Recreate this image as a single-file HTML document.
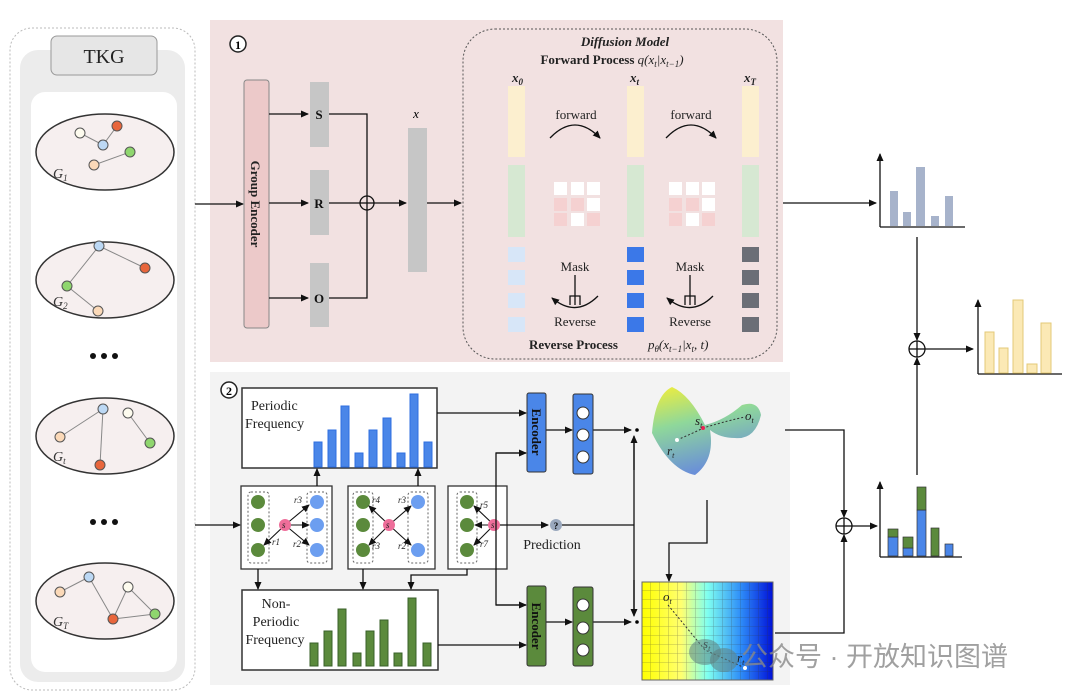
<!DOCTYPE html>
<html><head><meta charset="utf-8"><style>
html,body{margin:0;padding:0;background:#fff;}
svg{display:block;font-family:"Liberation Serif",serif;}
</style></head><body>
<svg width="1080" height="698" viewBox="0 0 1080 698" xmlns="http://www.w3.org/2000/svg">
<defs>
<marker id="ar" markerWidth="8" markerHeight="8" refX="7" refY="4" orient="auto" markerUnits="userSpaceOnUse"><path d="M0,0.5 L8,4 L0,7.5 z" fill="#111"/></marker>
<linearGradient id="surf" x1="0" y1="0" x2="0.3" y2="1"><stop offset="0" stop-color="#f2ee3a"/><stop offset="0.45" stop-color="#8fd89a"/><stop offset="1" stop-color="#6a8fd8"/></linearGradient>
<linearGradient id="heat" x1="0" y1="0" x2="1" y2="0"><stop offset="0" stop-color="#ffff00"/><stop offset="0.3" stop-color="#ffff70"/><stop offset="0.5" stop-color="#7ffff0"/><stop offset="0.75" stop-color="#2f8ff8"/><stop offset="1" stop-color="#0010d8"/></linearGradient>
<pattern id="grid" width="9" height="9" patternUnits="userSpaceOnUse" x="642" y="582"><path d="M9,0 V9 M0,9 H9" stroke="#333" stroke-opacity="0.45" stroke-width="0.8" fill="none"/></pattern>
</defs>

<!-- LEFT PANEL -->
<rect x="10" y="28" width="185" height="662" rx="22" fill="#fff" stroke="#bbb" stroke-dasharray="2,2"/>
<rect x="20" y="50" width="165" height="632" rx="18" fill="#ececec"/>
<rect x="31" y="92" width="146" height="580" rx="14" fill="#fff"/>
<rect x="51" y="36" width="106" height="39" rx="6" fill="#e6e6e6" stroke="#999"/>
<text x="104" y="63" font-size="20" text-anchor="middle" fill="#222">TKG</text>

<g stroke="#333" stroke-width="1.5" fill="#f6efef">
<ellipse cx="105" cy="152" rx="69" ry="38"/>
<ellipse cx="105" cy="280" rx="69" ry="38"/>
<ellipse cx="105" cy="436" rx="69" ry="38"/>
<ellipse cx="105" cy="601" rx="69" ry="38"/>
</g>
<g transform="translate(0,-3)">
<g stroke="#888" stroke-width="1">
<line x1="80" y1="136" x2="103" y2="148"/><line x1="103" y1="148" x2="117" y2="129"/><line x1="94" y1="168" x2="130" y2="155"/>
<line x1="99" y1="249" x2="145" y2="271"/><line x1="99" y1="249" x2="67" y2="289"/><line x1="67" y1="289" x2="98" y2="314"/>
<line x1="103" y1="412" x2="60" y2="440"/><line x1="103" y1="412" x2="100" y2="468"/><line x1="128" y1="416" x2="150" y2="446"/>
<line x1="89" y1="580" x2="60" y2="595"/><line x1="89" y1="580" x2="113" y2="622"/><line x1="113" y1="622" x2="128" y2="590"/><line x1="128" y1="590" x2="155" y2="617"/><line x1="113" y1="622" x2="155" y2="617"/>
</g>
<g stroke="#555" stroke-width="1">
<circle cx="80" cy="136" r="5" fill="#fdfbee"/><circle cx="103" cy="148" r="5" fill="#bcd8f4"/><circle cx="117" cy="129" r="5" fill="#e8663c"/><circle cx="94" cy="168" r="5" fill="#fbd9b8"/><circle cx="130" cy="155" r="5" fill="#8fd66e"/>
<circle cx="99" cy="249" r="5" fill="#bcd8f4"/><circle cx="145" cy="271" r="5" fill="#e8663c"/><circle cx="67" cy="289" r="5" fill="#8fd66e"/><circle cx="98" cy="314" r="5" fill="#fbd9b8"/>
<circle cx="103" cy="412" r="5" fill="#bcd8f4"/><circle cx="128" cy="416" r="5" fill="#fdfbee"/><circle cx="60" cy="440" r="5" fill="#fbd9b8"/><circle cx="150" cy="446" r="5" fill="#8fd66e"/><circle cx="100" cy="468" r="5" fill="#e8663c"/>
<circle cx="89" cy="580" r="5" fill="#bcd8f4"/><circle cx="60" cy="595" r="5" fill="#fbd9b8"/><circle cx="128" cy="590" r="5" fill="#fdfbee"/><circle cx="155" cy="617" r="5" fill="#8fd66e"/><circle cx="113" cy="622" r="5" fill="#e8663c"/>
</g>
<g font-style="italic" font-size="14" fill="#333">
<text x="53" y="181">G<tspan font-size="9" dy="3">1</tspan></text>
<text x="53" y="309">G<tspan font-size="9" dy="3">2</tspan></text>
<text x="53" y="464">G<tspan font-size="9" dy="3">t</tspan></text>
<text x="53" y="629">G<tspan font-size="9" dy="3">T</tspan></text>
</g>
</g>
<g fill="#111"><circle cx="93" cy="356" r="3"/><circle cx="104" cy="356" r="3"/><circle cx="115" cy="356" r="3"/>
<circle cx="93" cy="522" r="3"/><circle cx="104" cy="522" r="3"/><circle cx="115" cy="522" r="3"/></g>

<!-- PANEL 1 -->
<rect x="210" y="20" width="573" height="342" fill="#f2e1e1"/>
<circle cx="238" cy="44" r="8" fill="#fff" stroke="#222" stroke-width="1.5"/><text x="238" y="49" font-size="12" text-anchor="middle" font-weight="bold">1</text>
<line x1="195" y1="204" x2="243" y2="204" stroke="#111" stroke-width="1.3" marker-end="url(#ar)"/>
<rect x="244" y="80" width="25" height="248" rx="3" fill="#ecc9c9" stroke="#888"/>
<text transform="translate(251,204) rotate(90)" font-size="13" font-weight="bold" text-anchor="middle" fill="#222">Group Encoder</text>
<g fill="#c6c6c6"><rect x="310" y="82" width="19" height="65"/><rect x="310" y="170" width="19" height="65"/><rect x="310" y="263" width="19" height="64"/></g>
<g stroke="#111" stroke-width="1.3" fill="none">
<line x1="269" y1="114" x2="308" y2="114" marker-end="url(#ar)"/>
<line x1="269" y1="203" x2="308" y2="203" marker-end="url(#ar)"/>
<line x1="269" y1="298" x2="308" y2="298" marker-end="url(#ar)"/>
<polyline points="329,114 367,114 367,298 329,298"/>
<line x1="329" y1="203" x2="360" y2="203"/>
<circle cx="367" cy="203" r="7" fill="#f2e1e1"/><line x1="360" y1="203" x2="374" y2="203"/><line x1="367" y1="196" x2="367" y2="210"/>
<line x1="374" y1="203" x2="406" y2="203" marker-end="url(#ar)"/>
<line x1="427" y1="203" x2="461" y2="203" marker-end="url(#ar)"/>
</g>
<g font-size="13" font-weight="bold" fill="#111"><text x="319" y="119" text-anchor="middle">S</text><text x="319" y="208" text-anchor="middle">R</text><text x="319" y="303" text-anchor="middle">O</text></g>
<rect x="408" y="128" width="19" height="144" fill="#c6c6c6"/>
<text x="416" y="118" font-size="13" font-style="italic" text-anchor="middle">x</text>

<rect x="463" y="29" width="314" height="330" rx="32" fill="none" stroke="#555" stroke-dasharray="2,2"/>
<text x="625" y="46" font-size="13" font-weight="bold" font-style="italic" text-anchor="middle" fill="#222">Diffusion Model</text>
<text x="612" y="64" font-size="13" font-weight="bold" text-anchor="middle" fill="#222">Forward Process <tspan font-weight="normal" font-style="italic">q(x<tspan font-size="9" dy="3">t</tspan><tspan dy="-3">|x</tspan><tspan font-size="9" dy="3">t−1</tspan><tspan dy="-3">)</tspan></tspan></text>
<g font-size="13" font-style="italic" font-weight="bold" fill="#222">
<text x="512" y="82">x<tspan font-size="9" dy="3">0</tspan></text>
<text x="630" y="82">x<tspan font-size="9" dy="3">t</tspan></text>
<text x="744" y="82">x<tspan font-size="9" dy="3">T</tspan></text>
</g>
<g>
<rect x="508" y="86" width="17" height="71" fill="#fcefcf"/><rect x="627" y="86" width="17" height="71" fill="#fcefcf"/><rect x="742" y="86" width="17" height="71" fill="#fcefcf"/>
<rect x="508" y="165" width="17" height="72" fill="#d6e8d2"/><rect x="627" y="165" width="17" height="72" fill="#d6e8d2"/><rect x="742" y="165" width="17" height="72" fill="#d6e8d2"/>
</g>
<g fill="#d7e6f8"><rect x="508" y="247" width="17" height="15"/><rect x="508" y="270" width="17" height="15"/><rect x="508" y="293" width="17" height="15"/><rect x="508" y="317" width="17" height="15"/></g>
<g fill="#3b78e8"><rect x="627" y="247" width="17" height="15"/><rect x="627" y="270" width="17" height="15"/><rect x="627" y="293" width="17" height="15"/><rect x="627" y="317" width="17" height="15"/></g>
<g fill="#6b6e76"><rect x="742" y="247" width="17" height="15"/><rect x="742" y="270" width="17" height="15"/><rect x="742" y="293" width="17" height="15"/><rect x="742" y="317" width="17" height="15"/></g>
<g font-size="13" fill="#222" text-anchor="middle">
<text x="576" y="119">forward</text><text x="691" y="119">forward</text>
<text x="575" y="271">Mask</text><text x="690" y="271">Mask</text>
<text x="575" y="326">Reverse</text><text x="690" y="326">Reverse</text>
</g>
<g stroke="#111" stroke-width="1.3" fill="none">
<path d="M550,138 Q575,112 600,138" marker-end="url(#ar)"/>
<path d="M666,138 Q691,112 716,138" marker-end="url(#ar)"/>
<path d="M598,296 Q576,318 552,298" marker-end="url(#ar)"/>
<path d="M713,296 Q691,318 667,298" marker-end="url(#ar)"/>
<line x1="575" y1="275" x2="575" y2="305"/><path d="M570,305 V296 H580 V305"/>
<line x1="690" y1="275" x2="690" y2="305"/><path d="M685,305 V296 H695 V305"/>
</g>
<g>
<rect x="554" y="182" width="13" height="13" fill="#fff"/><rect x="571" y="182" width="13" height="13" fill="#fff"/><rect x="587" y="182" width="13" height="13" fill="#fff"/>
<rect x="554" y="198" width="13" height="13" fill="#f5d1d1"/><rect x="571" y="198" width="13" height="13" fill="#f5d1d1"/><rect x="587" y="198" width="13" height="13" fill="#fff"/>
<rect x="554" y="213" width="13" height="13" fill="#f5d1d1"/><rect x="571" y="213" width="13" height="13" fill="#fff"/><rect x="587" y="213" width="13" height="13" fill="#f5d1d1"/>
<rect x="669" y="182" width="13" height="13" fill="#fff"/><rect x="686" y="182" width="13" height="13" fill="#fff"/><rect x="702" y="182" width="13" height="13" fill="#fff"/>
<rect x="669" y="198" width="13" height="13" fill="#f5d1d1"/><rect x="686" y="198" width="13" height="13" fill="#f5d1d1"/><rect x="702" y="198" width="13" height="13" fill="#fff"/>
<rect x="669" y="213" width="13" height="13" fill="#f5d1d1"/><rect x="686" y="213" width="13" height="13" fill="#fff"/><rect x="702" y="213" width="13" height="13" fill="#f5d1d1"/>
</g>
<text x="529" y="349" font-size="13" font-weight="bold" fill="#222">Reverse Process</text>
<text x="648" y="349" font-size="13" font-style="italic" fill="#222">p<tspan font-size="9" dy="3">θ</tspan><tspan dy="-3">(x</tspan><tspan font-size="9" dy="3">t−1</tspan><tspan dy="-3">|x</tspan><tspan font-size="9" dy="3">t</tspan><tspan dy="-3">, t)</tspan></text>

<!-- PANEL 2 -->
<rect x="210" y="372" width="580" height="313" fill="#f3f3f3"/>
<circle cx="229" cy="390" r="8" fill="#fff" stroke="#222" stroke-width="1.5"/><text x="229" y="395" font-size="12" text-anchor="middle" font-weight="bold">2</text>
<rect x="242" y="388" width="195" height="80" fill="#fff" stroke="#333" stroke-width="1.5"/>
<text x="251" y="410" font-size="14" fill="#222">Periodic</text><text x="245" y="428" font-size="14" fill="#222">Frequency</text>
<g fill="#4a86e8" stroke="#2f6fe0">
<rect x="314" y="442" width="8" height="25"/><rect x="328" y="430" width="8" height="37"/><rect x="341" y="406" width="8" height="61"/><rect x="355" y="453" width="8" height="14"/><rect x="369" y="430" width="8" height="37"/><rect x="383" y="418" width="8" height="49"/><rect x="397" y="453" width="8" height="14"/><rect x="410" y="394" width="8" height="73"/><rect x="424" y="442" width="8" height="25"/>
</g>
<rect x="242" y="590" width="196" height="80" fill="#fff" stroke="#333" stroke-width="1.5"/>
<text x="276" y="608" font-size="14" fill="#222" text-anchor="middle">Non-</text><text x="276" y="626" font-size="14" fill="#222" text-anchor="middle">Periodic</text><text x="275" y="644" font-size="14" fill="#222" text-anchor="middle">Frequency</text>
<g fill="#5b8a3c" stroke="#38602a">
<rect x="310" y="643" width="8" height="23"/><rect x="324" y="631" width="8" height="35"/><rect x="338" y="609" width="8" height="57"/><rect x="353" y="653" width="8" height="13"/><rect x="366" y="631" width="8" height="35"/><rect x="380" y="620" width="8" height="46"/><rect x="394" y="653" width="8" height="13"/><rect x="408" y="598" width="8" height="68"/><rect x="423" y="643" width="8" height="23"/>
</g>

<!-- graph boxes -->
<g fill="#fff" stroke="#333" stroke-width="1.3"><rect x="241" y="486" width="91" height="83"/><rect x="348" y="486" width="87" height="83"/><rect x="448" y="486" width="59" height="83"/></g>
<g fill="none" stroke="#666" stroke-dasharray="2,2"><rect x="248" y="492" width="21" height="71" rx="3"/><rect x="307" y="492" width="20" height="71" rx="3"/><rect x="353" y="492" width="20" height="71" rx="3"/><rect x="408" y="492" width="20" height="71" rx="3"/><rect x="457" y="492" width="20" height="71" rx="3"/></g>
<g fill="#5b8a3c"><circle cx="258" cy="502" r="7"/><circle cx="258" cy="525" r="7"/><circle cx="258" cy="550" r="7"/><circle cx="363" cy="502" r="7"/><circle cx="363" cy="525" r="7"/><circle cx="363" cy="550" r="7"/><circle cx="467" cy="502" r="7"/><circle cx="467" cy="525" r="7"/><circle cx="467" cy="550" r="7"/></g>
<g fill="#6c9ef0"><circle cx="317" cy="502" r="7"/><circle cx="317" cy="525" r="7"/><circle cx="317" cy="550" r="7"/><circle cx="418" cy="502" r="7"/><circle cx="418" cy="550" r="7"/></g>
<g stroke="#111" stroke-width="1.1" marker-end="url(#ar)">
<line x1="285" y1="525" x2="264" y2="545"/><line x1="285" y1="525" x2="309" y2="505"/><line x1="285" y1="525" x2="309" y2="525"/><line x1="285" y1="525" x2="309" y2="545"/>
<line x1="389" y1="525" x2="369" y2="506"/><line x1="389" y1="525" x2="369" y2="545"/><line x1="389" y1="525" x2="411" y2="506"/><line x1="389" y1="525" x2="411" y2="545"/>
<line x1="494" y1="525" x2="474" y2="506"/><line x1="494" y1="525" x2="475" y2="525"/><line x1="494" y1="525" x2="474" y2="545"/>
</g>
<g fill="#ee6e9a"><circle cx="285" cy="525" r="6"/><circle cx="389" cy="525" r="6"/><circle cx="494" cy="525" r="6"/></g>
<g font-size="9" font-style="italic" fill="#222"><text x="282" y="528">s</text><text x="386" y="528">s</text><text x="491" y="528">s</text>
<text x="272" y="545">r1</text><text x="293" y="547">r2</text><text x="294" y="503">r3</text><text x="372" y="503">r4</text><text x="372" y="549">r3</text><text x="398" y="503">r3</text><text x="398" y="549">r2</text><text x="480" y="508">r5</text><text x="480" y="547">r7</text></g>

<g stroke="#111" stroke-width="1.3" fill="none">
<line x1="195" y1="525" x2="240" y2="525" marker-end="url(#ar)"/>
<line x1="317" y1="486" x2="317" y2="469" marker-end="url(#ar)"/>
<line x1="418" y1="486" x2="418" y2="469" marker-end="url(#ar)"/>
<line x1="258" y1="569" x2="258" y2="589" marker-end="url(#ar)"/>
<line x1="363" y1="569" x2="363" y2="589" marker-end="url(#ar)"/>
<polyline points="467,569 467,575 411,575 411,589" marker-end="url(#ar)"/>
<line x1="437" y1="413" x2="526" y2="413" marker-end="url(#ar)"/>
<line x1="438" y1="645" x2="526" y2="645" marker-end="url(#ar)"/>
<polyline points="526,453 496,453 496,605 526,605"/>
<line x1="496" y1="453" x2="526" y2="453" marker-end="url(#ar)"/>
<line x1="496" y1="605" x2="526" y2="605" marker-end="url(#ar)"/>
<line x1="500" y1="525" x2="548" y2="525" marker-end="url(#ar)"/>
<line x1="562" y1="525" x2="634" y2="525"/>
<line x1="546" y1="430" x2="572" y2="430" marker-end="url(#ar)"/>
<line x1="546" y1="622" x2="572" y2="622" marker-end="url(#ar)"/>
<line x1="593" y1="430" x2="631" y2="430" marker-end="url(#ar)"/>
<line x1="593" y1="622" x2="631" y2="622" marker-end="url(#ar)"/>
<line x1="634" y1="440" x2="634" y2="612"/>
<line x1="634" y1="470" x2="634" y2="436" marker-end="url(#ar)"/>
<line x1="634" y1="580" x2="634" y2="616" marker-end="url(#ar)"/>
<polyline points="707,500 707,543 669,543 669,581" marker-end="url(#ar)"/>
</g>
<circle cx="637" cy="430" r="1.8"/><circle cx="637" cy="622" r="1.8"/>
<circle cx="556" cy="525" r="6" fill="#9aa8bd"/><text x="556" y="529" font-size="9" text-anchor="middle" font-weight="bold">?</text>
<text x="552" y="549" font-size="14" fill="#222" text-anchor="middle">Prediction</text>

<rect x="527" y="393" width="19" height="79" rx="2" fill="#4a86e8" stroke="#333"/>
<text transform="translate(532,432) rotate(90)" font-size="13" font-weight="bold" text-anchor="middle" fill="#111">Encoder</text>
<rect x="527" y="586" width="19" height="80" rx="2" fill="#5b8a3c" stroke="#333"/>
<text transform="translate(532,626) rotate(90)" font-size="13" font-weight="bold" text-anchor="middle" fill="#111">Encoder</text>
<rect x="573" y="394" width="20" height="80" rx="2" fill="#4a86e8" stroke="#333"/>
<rect x="573" y="587" width="20" height="79" rx="2" fill="#5b8a3c" stroke="#333"/>
<g fill="#fff" stroke="#333"><circle cx="583" cy="413" r="6"/><circle cx="583" cy="435" r="6"/><circle cx="583" cy="457" r="6"/><circle cx="583" cy="605" r="6"/><circle cx="583" cy="628" r="6"/><circle cx="583" cy="650" r="6"/></g>

<!-- surface -->
<path d="M652,433 Q655,395 672,387 Q690,395 705,425 Q725,420 742,405 Q758,400 761,415 Q755,440 735,438 Q720,438 710,430 Q715,460 695,475 Q670,470 652,433 Z" fill="url(#surf)"/>
<path d="M677,440 Q700,430 703,428 Q730,420 745,417" fill="none" stroke="#333" stroke-dasharray="2,2"/>
<circle cx="677" cy="440" r="2" fill="#fff"/><circle cx="703" cy="428" r="2" fill="#e25"/>
<g font-size="13" font-style="italic" fill="#222"><text x="695" y="425">s<tspan font-size="8" dy="3">t</tspan></text><text x="745" y="420">o<tspan font-size="8" dy="3">t</tspan></text><text x="667" y="455">r<tspan font-size="8" dy="3">t</tspan></text></g>
<!-- heatmap -->
<rect x="642" y="582" width="131" height="98" fill="url(#heat)"/>
<rect x="642" y="582" width="131" height="98" fill="url(#grid)" stroke="#666"/>
<path d="M668,605 L705,650 L745,668" fill="none" stroke="#333" stroke-dasharray="2,2"/>
<circle cx="745" cy="668" r="2" fill="#fff"/>
<g font-size="13" font-style="italic" fill="#222"><text x="663" y="601">o<tspan font-size="8" dy="3">t</tspan></text><text x="703" y="648">s<tspan font-size="8" dy="3">t</tspan></text><text x="737" y="662">r<tspan font-size="8" dy="3">t</tspan></text></g>
<!-- watermark -->
<g fill="#5e7f7f" fill-opacity="0.55"><ellipse cx="705" cy="652" rx="16" ry="13"/><ellipse cx="724" cy="660" rx="14" ry="12"/></g>
<text x="741" y="666" font-size="27" fill="#888" fill-opacity="0.8" font-family="'Liberation Sans','Noto Sans CJK SC',sans-serif">公众号 · 开放知识图谱</text>

<!-- RIGHT -->
<g stroke="#111" stroke-width="1.3" fill="none">
<line x1="783" y1="203" x2="876" y2="203" marker-end="url(#ar)"/>
<polyline points="880,227 880,154" marker-end="url(#ar)"/><line x1="880" y1="227" x2="965" y2="227"/>
<line x1="917" y1="237" x2="917" y2="340" marker-end="url(#ar)"/>
<circle cx="917" cy="349" r="8" fill="#fff"/><line x1="909" y1="349" x2="925" y2="349"/><line x1="917" y1="341" x2="917" y2="357"/>
<line x1="925" y1="349" x2="973" y2="349" marker-end="url(#ar)"/>
<line x1="917" y1="475" x2="917" y2="358" marker-end="url(#ar)"/>
<polyline points="978,374 978,300" marker-end="url(#ar)"/><line x1="978" y1="374" x2="1062" y2="374"/>
<polyline points="785,430 844,430 844,517" marker-end="url(#ar)"/>
<polyline points="775,633 844,633 844,535" marker-end="url(#ar)"/>
<circle cx="844" cy="526" r="8" fill="#fff"/><line x1="836" y1="526" x2="852" y2="526"/><line x1="844" y1="518" x2="844" y2="534"/>
<line x1="852" y1="526" x2="877" y2="526" marker-end="url(#ar)"/>
<polyline points="880,557 880,482" marker-end="url(#ar)"/><line x1="880" y1="557" x2="962" y2="557"/>
</g>
<g fill="#a7b3cb"><rect x="890" y="191" width="8" height="35"/><rect x="903" y="212" width="8" height="14"/><rect x="916" y="167" width="9" height="59"/><rect x="931" y="216" width="8" height="10"/><rect x="945" y="196" width="8" height="30"/></g>
<g fill="#fbe9b5" stroke="#e3c978"><rect x="985" y="332" width="9" height="41"/><rect x="999" y="348" width="9" height="25"/><rect x="1013" y="300" width="10" height="73"/><rect x="1027" y="364" width="10" height="9"/><rect x="1041" y="323" width="10" height="50"/></g>
<g stroke="#333" stroke-width="0.7">
<rect x="888" y="537" width="10" height="19" fill="#4a86e8"/><rect x="888" y="529" width="10" height="8" fill="#5b8a3c"/>
<rect x="903" y="548" width="10" height="8" fill="#4a86e8"/><rect x="903" y="537" width="10" height="11" fill="#5b8a3c"/>
<rect x="917" y="510" width="9" height="46" fill="#4a86e8"/><rect x="917" y="487" width="9" height="23" fill="#5b8a3c"/>
<rect x="931" y="528" width="8" height="28" fill="#5b8a3c"/>
<rect x="945" y="544" width="8" height="12" fill="#4a86e8"/>
</g>
</svg>
</body></html>
